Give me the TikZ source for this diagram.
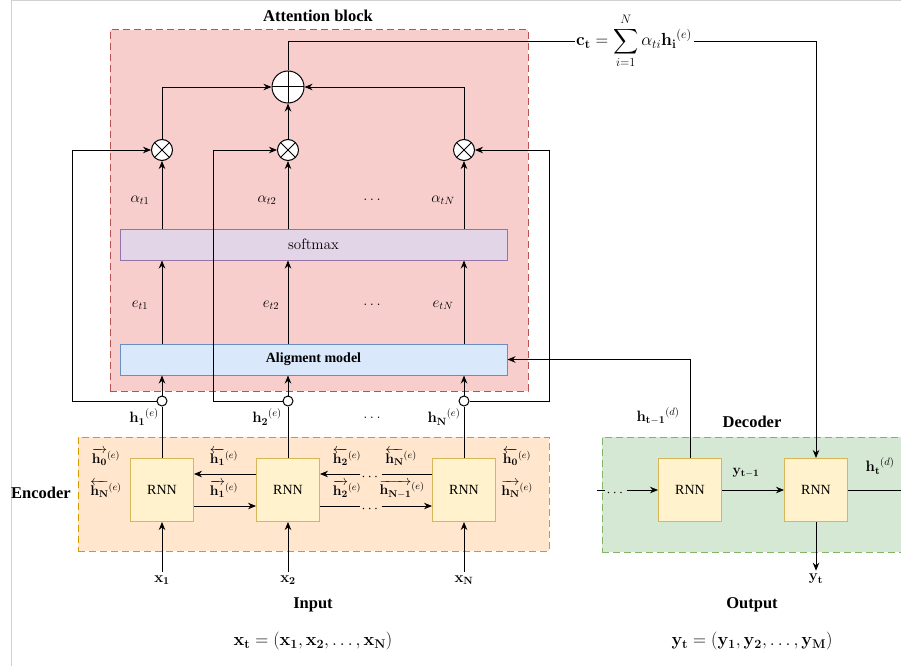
\RequirePackage{fix-cm}
\documentclass[tikz,border=0pt]{standalone}
\usepackage{amsmath,amssymb}
\usepackage[no-math]{fontspec}
\setmainfont{Liberation Serif}
\usepackage{xcolor}
\usetikzlibrary{positioning, arrows.meta, backgrounds}

\definecolor{attfill}{HTML}{F8CECC}
\definecolor{attline}{HTML}{B85450}
\definecolor{encfill}{HTML}{FFE6CC}
\definecolor{encline}{HTML}{D79B00}
\definecolor{decfill}{HTML}{D5E8D4}
\definecolor{decline}{HTML}{82B366}
\definecolor{rnnfill}{HTML}{FFF2CC}
\definecolor{rnnline}{HTML}{D6B656}
\definecolor{smfill}{HTML}{E1D5E7}
\definecolor{smline}{HTML}{9673A6}
\definecolor{alfill}{HTML}{DAE8FC}
\definecolor{alline}{HTML}{6C8EBF}

\begin{document}
\begin{tikzpicture}[
      x=1pt, y=-1pt,
      font=\fontsize{14}{16}\selectfont,
      block/.style={draw, line width=1pt, dash pattern=on 7pt off 4pt, inner sep=0pt},
      rnn/.style={draw=rnnline, fill=rnnfill, line width=1pt, minimum width=63pt, minimum height=63pt},
      bar/.style={draw, line width=1pt, minimum width=387pt, minimum height=31pt, inner sep=0pt},
      mul/.style={circle, draw, fill=white, line width=1pt, minimum size=21pt, inner sep=0pt,
        path picture={\draw[line width=1pt] (path picture bounding box.center) +(-8,-8) -- +(8,8) +(-8,8) -- +(8,-8);}},
      add/.style={circle, draw, fill=white, line width=1pt, minimum size=32pt, inner sep=0pt,
        path picture={\draw[line width=1pt] (path picture bounding box.center) +(-17,0) -- +(17,0) +(0,-17) -- +(0,17);}},
      tap/.style={circle, draw, fill=white, line width=1pt, minimum size=10pt, inner sep=0pt},
      title/.style={font=\fontsize{16.5}{18}\selectfont\bfseries},
      lbl/.style={font=\fontsize{15}{17}\selectfont},
      seq/.style={font=\fontsize{18}{20}\selectfont},
      gap/.style={inner sep=1pt},
      arr/.style={-{Stealth[length=8pt, width=6.5pt]}, line width=0.9pt},
      ln/.style={line width=0.9pt},
    ]
    \useasboundingbox (0,0) rectangle (901,666);
    \draw[black!18, line width=1pt] (11,666) -- (11,1) -- (901,1);

    % containers
    \node[block, draw=attline, fill=attfill, minimum width=418pt, minimum height=361pt] (att) at (319,210.5) {};
    \node[block, draw=encline, fill=encfill, minimum width=471pt, minimum height=114pt] (enc) at (313.5,494) {};
    \node[block, draw=decline, fill=decfill, minimum width=305pt, minimum height=115pt] (dec) at (754.5,494.5) {};
    \node[title] (atttitle) at (318,16) {Attention block};
    \node[title] (enctitle) at (41,493) {Encoder};
    \node[title] (dectitle) at (752,422) {Decoder};
    \node[title] (intitle) at (313,605) {Input};
    \node[title] (outtitle) at (752,605) {Output};

    % attention block
    \node[add] (sum) at (288,87) {};
    \node[mul] (m1) at (162,150) {};
    \node[mul] (m2) at (288,150) {};
    \node[mul] (mN) at (464,150) {};
    \node[bar, draw=smline, fill=smfill, lbl] (soft) at (313.5,244.5) {$\mathrm{softmax}$};
    \node[bar, draw=alline, fill=alfill] (align) at (313.5,359.5) {\bfseries Aligment model};
    \node[lbl] (a1) at (140,200) {$\alpha_{t1}$};
    \node[lbl] (a2) at (267,200) {$\alpha_{t2}$};
    \node[lbl] (adots) at (372,200) {$\ldots$};
    \node[lbl] (aN) at (443,200) {$\alpha_{tN}$};
    \node[lbl] (s1) at (140,305) {$e_{t1}$};
    \node[lbl] (s2) at (271,305) {$e_{t2}$};
    \node[lbl] (sdots) at (372,305) {$\ldots$};
    \node[lbl] (sN) at (443,305) {$e_{tN}$};
    \node[inner sep=1.5pt, font=\fontsize{17.5}{19}\selectfont] (ctx) at (634,41) {$\mathbf{c_t} = \displaystyle\sum_{i=1}^{N} \alpha_{ti}\mathbf{h_i}^{(e)}$};

    % hidden states
    \node[tap] (t1) at (162,401) {};
    \node[tap] (t2) at (288,401) {};
    \node[tap] (tN) at (464,401) {};
    \node[lbl] (h1) at (144,417) {$\mathbf{h_1}^{(e)}$};
    \node[lbl] (h2) at (267,417) {$\mathbf{h_2}^{(e)}$};
    \node[lbl] (hdots) at (372,418) {$\ldots$};
    \node[lbl] (hN) at (444,417) {$\mathbf{h_N}^{(e)}$};
    \node[lbl] (hd) at (658,416) {$\mathbf{h_{t-1}}^{(d)}$};

    % encoder
    \node[rnn] (e1) at (162,490) {RNN};
    \node[rnn] (e2) at (288,490) {RNN};
    \node[rnn] (e3) at (464,490) {RNN};
    \node (f0) at (106,457) {$\overrightarrow{\mathbf{h_0}}^{(e)}$};
    \node (bN) at (106,489) {$\overleftarrow{\mathbf{h_N}}^{(e)}$};
    \node (b1) at (224,457) {$\overleftarrow{\mathbf{h_1}}^{(e)}$};
    \node (f1) at (224,489) {$\overrightarrow{\mathbf{h_1}}^{(e)}$};
    \node (b2) at (347,457) {$\overleftarrow{\mathbf{h_2}}^{(e)}$};
    \node (bN2) at (401,457) {$\overleftarrow{\mathbf{h_N}}^{(e)}$};
    \node (f2) at (347,489) {$\overrightarrow{\mathbf{h_2}}^{(e)}$};
    \node (fN1) at (402,489) {$\overrightarrow{\mathbf{h_{N-1}}}^{(e)}$};
    \node (b0) at (517,457) {$\overleftarrow{\mathbf{h_0}}^{(e)}$};
    \node (fN) at (517,489) {$\overrightarrow{\mathbf{h_N}}^{(e)}$};
    \node[gap] (gtop) at (371,477) {$\cdots$};
    \node[gap] (gbot) at (371,509) {$\cdots$};
    \node[lbl] (x1) at (162,580) {$\mathbf{x_1}$};
    \node[lbl] (x2) at (288,580) {$\mathbf{x_2}$};
    \node[lbl] (xN) at (464,580) {$\mathbf{x_N}$};
    \node[seq] (xseq) at (313,641) {$\mathbf{x_t} = (\mathbf{x_1}, \mathbf{x_2}, \ldots, \mathbf{x_N})$};

    % decoder
    \node[rnn] (d1) at (690,490) {RNN};
    \node[rnn] (d2) at (816,490) {RNN};
    \coordinate (din) at (597,490);
    \coordinate (dout) at (905,490);
    \node[gap] (ddots) at (616,493) {$\cdots$};
    \node (ylast) at (746,473) {$\mathbf{y_{t-1}}$};
    \node[lbl] (hdt) at (880,466) {$\mathbf{h_t}^{(d)}$};
    \node[lbl] (yt) at (816,579) {$\mathbf{y_t}$};
    \node[seq] (yseq) at (752,641) {$\mathbf{y_t} = (\mathbf{y_1}, \mathbf{y_2}, \ldots, \mathbf{y_M})$};

    % connections in the attention block
    \draw[arr] (m1.north) |- (sum.west);
    \draw[arr] (m2) -- (sum);
    \draw[arr] (mN.north) |- (sum.east);
    \foreach \c in {m1, m2, mN} {
      \draw[arr] (soft.north -| \c) -- (\c);
      \draw[arr] (align.north -| \c) -- (soft.south -| \c);
    }
    \draw[arr] (t1) -- (align.south -| t1);
    \draw[arr] (t2) -- (align.south -| t2);
    \draw[arr] (tN) -- (align.south -| tN);
    \draw[arr] (t1.west) -- ++(-84,0) |- (m1.west);
    \draw[arr] (t2.west) -- ++(-69,0) |- (m2.west);
    \draw[arr] (tN.east) -- ++(80,0) |- (mN.east);
    \draw[ln] (e1) -- (t1);
    \draw[ln] (e2) -- (t2);
    \draw[ln] (e3) -- (tN);
    \draw[ln] (sum.north) |- (ctx.west);
    \draw[arr] (ctx.east) -| (d2.north);
    \draw[arr] (d1.north) |- (align.east);

    % encoder recurrences
    \draw[arr] ([yshift=16pt]e2.west) -- ([yshift=16pt]e1.east);
    \draw[arr] ([yshift=-16pt]e1.east) -- ([yshift=-16pt]e2.west);
    \draw[ln] ([yshift=16pt]e3.west) -- ([yshift=16pt]e3.west -| gtop.east);
    \draw[arr] ([yshift=16pt]e2.east -| gtop.west) -- ([yshift=16pt]e2.east);
    \draw[ln] ([yshift=-16pt]e2.east) -- ([yshift=-16pt]e2.east -| gbot.west);
    \draw[arr] ([yshift=-16pt]e3.west -| gbot.east) -- ([yshift=-16pt]e3.west);
    \draw[arr] (x1) -- (e1);
    \draw[arr] (x2) -- (e2);
    \draw[arr] (xN) -- (e3);

    % decoder chain
    \draw[ln] (din) -- (din -| ddots.west);
    \draw[arr] (din -| ddots.east) -- (d1.west);
    \draw[arr] (d1) -- (d2);
    \draw[ln] (d2.east) -- (dout);
    \draw[arr] (d2) -- (yt);
  \end{tikzpicture}
\end{document}
